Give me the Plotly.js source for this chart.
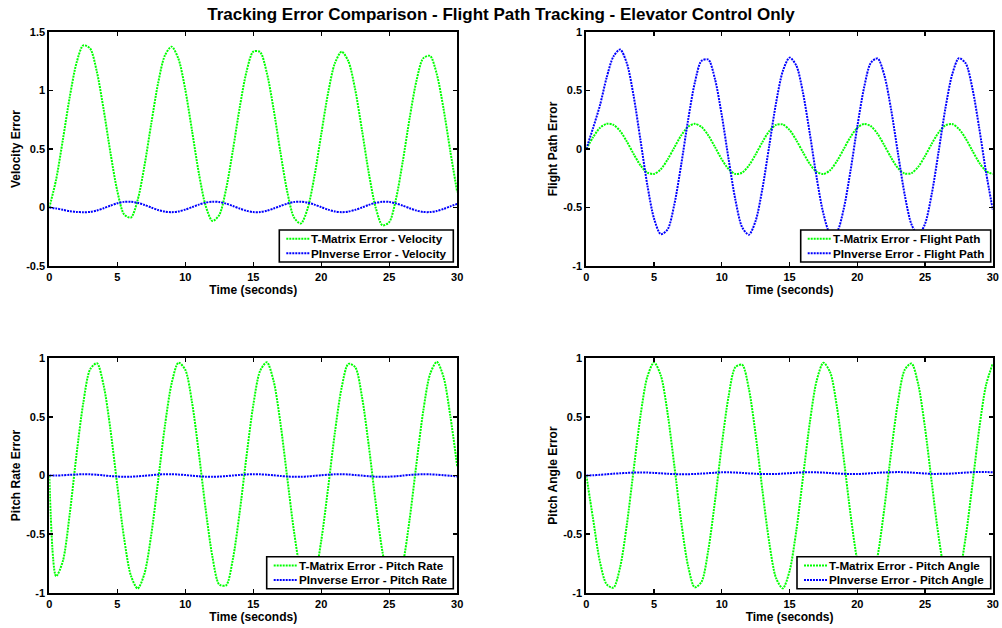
<!DOCTYPE html>
<html>
<head>
<meta charset="utf-8">
<script src="https://cdn.plot.ly/plotly-3.0.1.min.js"></script>
<style>html,body{margin:0;padding:0;background:#fff;}#chart{width:1002px;height:628px;}</style>
</head>
<body>
<div id="chart"></div>
<script>
// ---- data ----
const time = [0,0.5,1,1.5,2,2.5,3,3.5,4,4.5,5,5.5,6,6.5,7,7.5,8,8.5,9,9.5,10,10.5,11,11.5,12,12.5,13,13.5,14,14.5,15,15.5,16,16.5,17,17.5,18,18.5,19,19.5,20,20.5,21,21.5,22,22.5,23,23.5,24,24.5,25,25.5,26,26.5,27,27.5,28,28.5,29,29.5,30];

const velocityTMatrix = [0.000,0.238,0.581,0.942,1.235,1.386,1.359,1.159,0.835,0.466,
  0.142,-0.058,-0.086,0.065,0.357,0.719,1.061,1.299,1.375,1.270,
  1.008,0.654,0.293,0.014,-0.115,-0.064,0.156,0.488,0.852,1.159,
  1.332,1.329,1.150,0.838,0.471,0.136,-0.086,-0.137,-0.009,0.268,
  0.626,0.976,1.232,1.332,1.249,1.006,0.659,0.294,0.001,-0.152,
  -0.125,0.074,0.396,0.762,1.081,1.275,1.296,1.139,0.841,0.476,
  0.131];
const velocityPInverse = [0.000,-0.008,-0.020,-0.031,-0.038,-0.040,-0.038,-0.026,-0.006,0.016,
  0.036,0.048,0.049,0.040,0.022,0.000,-0.021,-0.035,-0.040,-0.034,
  -0.018,0.003,0.025,0.042,0.050,0.047,0.033,0.013,-0.009,-0.028,
  -0.039,-0.039,-0.028,-0.009,0.013,0.033,0.047,0.050,0.042,0.025,
  0.003,-0.018,-0.034,-0.040,-0.035,-0.020,0.000,0.022,0.040,0.049,
  0.048,0.035,0.016,-0.006,-0.026,-0.038,-0.039,-0.030,-0.012,0.010,
  0.031];

const flightPathTMatrix = [0.000,0.100,0.180,0.215,0.207,0.153,0.062,-0.044,-0.140,-0.201,
  -0.213,-0.173,-0.090,0.014,0.115,0.188,0.215,0.189,0.117,0.016,
  -0.089,-0.172,-0.213,-0.202,-0.141,-0.046,0.060,0.152,0.206,0.210,
  0.163,0.075,-0.030,-0.129,-0.195,-0.214,-0.181,-0.103,0.000,0.103,
  0.181,0.214,0.195,0.129,0.030,-0.075,-0.163,-0.210,-0.206,-0.152,
  -0.060,0.046,0.141,0.202,0.213,0.171,0.089,-0.016,-0.117,-0.189,
  -0.215];
const flightPathPInverse = [0.000,0.180,0.370,0.610,0.790,0.850,0.730,0.448,0.074,-0.305,
  -0.595,-0.728,-0.687,-0.472,-0.136,0.239,0.562,0.753,0.765,0.596,
  0.287,-0.086,-0.433,-0.668,-0.733,-0.613,-0.337,0.027,0.391,0.665,
  0.781,0.713,0.475,0.128,-0.245,-0.553,-0.719,-0.703,-0.510,-0.185,
  0.191,0.525,0.737,0.774,0.628,0.334,-0.036,-0.392,-0.645,-0.735,
  -0.639,-0.380,-0.023,0.346,0.636,0.776,0.732,0.515,0.177,-0.198,
  -0.519];

const pitchRateTMatrix = [0.000,-0.860,-0.729,-0.330,0.177,0.620,0.905,0.958,0.767,0.389,
  -0.083,-0.534,-0.854,-0.964,-0.837,-0.504,-0.048,0.421,0.788,0.963,
  0.902,0.622,0.189,-0.288,-0.695,-0.930,-0.937,-0.714,-0.315,0.161,
  0.599,0.891,0.966,0.805,0.447,-0.019,-0.480,-0.822,-0.963,-0.867,
  -0.557,-0.112,0.363,0.749,0.953,0.924,0.669,0.252,-0.227,-0.649,
  -0.911,-0.950,-0.756,-0.375,0.098,0.548,0.864,0.970,0.839,0.503,
  0.080];
const pitchRatePInverse = [0.000,0.000,0.002,0.006,0.009,0.011,0.010,0.006,0.001,-0.005,
  -0.009,-0.011,-0.010,-0.007,-0.002,0.003,0.008,0.011,0.011,0.008,
  0.004,-0.002,-0.007,-0.010,-0.011,-0.009,-0.005,0.000,0.005,0.009,
  0.011,0.010,0.007,0.002,-0.004,-0.008,-0.011,-0.011,-0.008,-0.003,
  0.002,0.007,0.010,0.011,0.009,0.004,-0.001,-0.006,-0.010,-0.011,
  -0.010,-0.006,-0.001,0.005,0.009,0.011,0.010,0.007,0.002,-0.003,
  -0.008];

const pitchAngleTMatrix = [0.000,-0.370,-0.733,-0.928,-0.957,-0.780,-0.412,0.056,0.511,0.841,
  0.965,0.853,0.531,0.080,-0.391,-0.766,-0.954,-0.908,-0.639,-0.215,
  0.262,0.675,0.924,0.945,0.738,0.346,-0.129,-0.571,-0.874,-0.963,
  -0.816,-0.469,-0.008,0.456,0.809,0.962,0.880,0.582,0.144,-0.331,
  -0.725,-0.942,-0.928,-0.686,-0.277,0.200,0.628,0.902,0.956,0.776,
  0.405,-0.065,-0.519,-0.845,-0.965,-0.848,-0.524,-0.072,0.400,0.772,
  0.955];
const pitchAnglePInverse = [0.000,0.002,0.006,0.010,0.015,0.019,0.022,0.025,0.026,0.025,
  0.022,0.019,0.015,0.012,0.010,0.011,0.013,0.016,0.020,0.024,
  0.027,0.027,0.025,0.022,0.018,0.015,0.012,0.012,0.013,0.016,
  0.020,0.024,0.027,0.028,0.027,0.025,0.021,0.018,0.014,0.013,
  0.013,0.015,0.019,0.023,0.026,0.028,0.029,0.028,0.025,0.021,
  0.017,0.014,0.014,0.015,0.017,0.021,0.025,0.028,0.030,0.030,
  0.027];

const seriesNamesTMatrix = ['T-Matrix Error - Velocity','T-Matrix Error - Flight Path','T-Matrix Error - Pitch Rate','T-Matrix Error - Pitch Angle'];
const seriesNamesPInverse = ['PInverse Error - Velocity','PInverse Error - Flight Path','PInverse Error - Pitch Rate','PInverse Error - Pitch Angle'];
const yAxisTitles = ['Velocity Error','Flight Path Error','Pitch Rate Error','Pitch Angle Error'];
const xAxisTitle = 'Time (seconds)';
const chartTitle = 'Tracking Error Comparison - Flight Path Tracking - Elevator Control Only';

const xTickVals = [0,5,10,15,20,25,30];
const xTickText = ['0','5','10','15','20','25','30'];
const yTickValsVelocity = [-0.5,0,0.5,1,1.5];
const yTickTextVelocity = ['-0.5','0','0.5','1','1.5'];
const yTickValsUnit = [-1,-0.5,0,0.5,1];
const yTickTextUnit = ['-1','-0.5','0','0.5','1'];

// ---- drawing ----
const F = '"Liberation Sans", Arial, Helvetica, sans-serif';
const W = 1002, H = 628;
const GREEN = '#00ff00', BLUE = '#0000ff';
const DASH = '2px,1px';

const tmData = [velocityTMatrix, flightPathTMatrix, pitchRateTMatrix, pitchAngleTMatrix];
const piData = [velocityPInverse, flightPathPInverse, pitchRatePInverse, pitchAnglePInverse];
const axIds = ['', '2', '3', '4'];

const traces = [];
for (let i = 0; i < 4; i++) {
  const common = {x: time, type: 'scatter', mode: 'lines', xaxis: 'x' + axIds[i], yaxis: 'y' + axIds[i], showlegend: false, hoverinfo: 'skip'};
  traces.push(Object.assign({}, common, {y: tmData[i], name: seriesNamesTMatrix[i], line: {color: GREEN, width: 2, dash: DASH, shape: 'spline', smoothing: 0.8}}));
  traces.push(Object.assign({}, common, {y: piData[i], name: seriesNamesPInverse[i], line: {color: BLUE, width: 2, dash: DASH, shape: 'spline', smoothing: 0.8}}));
}

const px = (a, b) => [a / W, b / W];
const py = (top, bottom) => [1 - bottom / H, 1 - top / H];
const xDomL = px(49.3, 457.2), xDomR = px(586.3, 992.8);
const yDomT = py(32, 266), yDomB = py(358.3, 592.7);

const axisStyle = {showline: true, linecolor: '#000', linewidth: 2, mirror: 'ticks', ticks: 'inside', ticklen: 4, tickwidth: 1.3, tickcolor: '#000',
  showgrid: false, zeroline: false, automargin: false, fixedrange: true,
  tickfont: {family: F, size: 11, color: '#000', weight: 'bold'}};

function xAxis(dom, anchor) {
  return Object.assign({}, axisStyle, {domain: dom, anchor: anchor, range: [0, 30], tickvals: xTickVals, ticktext: xTickText,
    title: {text: xAxisTitle, standoff: 2, font: {family: F, size: 12, color: '#000', weight: 'bold'}}});
}
function yAxis(dom, anchor, range, vals, text, title) {
  return Object.assign({}, axisStyle, {domain: dom, anchor: anchor, range: range, tickvals: vals, ticktext: text,
    title: {text: title, standoff: 3, font: {family: F, size: 12, color: '#000', weight: 'bold'}}});
}

// legend boxes (MATLAB style, lower right of each axes)
const legendBoxes = [
  {l: 279.3, r: 453.3, t: 230, b: 262},
  {l: 800.7, r: 990.7, t: 230, b: 262},
  {l: 266.7, r: 453.3, t: 556.7, b: 588.7},
  {l: 797.0, r: 990.7, t: 556.7, b: 588.7}
];
const shapes = [], annotations = [];
const legendFont = {family: F, size: 11.7, color: '#000', weight: 'bold'};
legendBoxes.forEach((bx, i) => {
  shapes.push({type: 'rect', xref: 'paper', yref: 'paper', x0: bx.l / W, x1: bx.r / W, y0: 1 - bx.b / H, y1: 1 - bx.t / H,
    line: {color: '#000', width: 1.6}, fillcolor: '#fff', layer: 'above'});
  const rows = [bx.t + 8.8, bx.t + 23.2];
  const names = [seriesNamesTMatrix[i], seriesNamesPInverse[i]];
  const cols = [GREEN, BLUE];
  rows.forEach((ry, k) => {
    shapes.push({type: 'line', xref: 'paper', yref: 'paper', x0: (bx.l + 7) / W, x1: (bx.l + 31) / W, y0: 1 - ry / H, y1: 1 - ry / H,
      line: {color: cols[k], width: 2, dash: DASH}, layer: 'above'});
    annotations.push({xref: 'paper', yref: 'paper', x: (bx.l + 32) / W, y: 1 - ry / H, xanchor: 'left', yanchor: 'middle',
      text: names[k], showarrow: false, font: legendFont, borderpad: 0, borderwidth: 0});
  });
});

const layout = {
  width: W, height: H, margin: {l: 0, r: 0, t: 0, b: 0}, paper_bgcolor: '#fff', plot_bgcolor: '#fff', showlegend: false,
  title: {text: chartTitle, x: 0.5, xanchor: 'center', xref: 'container', y: 1 - 14 / H, yanchor: 'middle', yref: 'container',
    font: {family: F, size: 17, color: '#000', weight: 'bold'}},
  xaxis: xAxis(xDomL, 'y'), yaxis: yAxis(yDomT, 'x', [-0.5, 1.5], yTickValsVelocity, yTickTextVelocity, yAxisTitles[0]),
  xaxis2: xAxis(xDomR, 'y2'), yaxis2: yAxis(yDomT, 'x2', [-1, 1], yTickValsUnit, yTickTextUnit, yAxisTitles[1]),
  xaxis3: xAxis(xDomL, 'y3'), yaxis3: yAxis(yDomB, 'x3', [-1, 1], yTickValsUnit, yTickTextUnit, yAxisTitles[2]),
  xaxis4: xAxis(xDomR, 'y4'), yaxis4: yAxis(yDomB, 'x4', [-1, 1], yTickValsUnit, yTickTextUnit, yAxisTitles[3]),
  shapes: shapes, annotations: annotations
};

Plotly.newPlot('chart', traces, layout, {staticPlot: true, displayModeBar: false});
</script>
</body>
</html>
